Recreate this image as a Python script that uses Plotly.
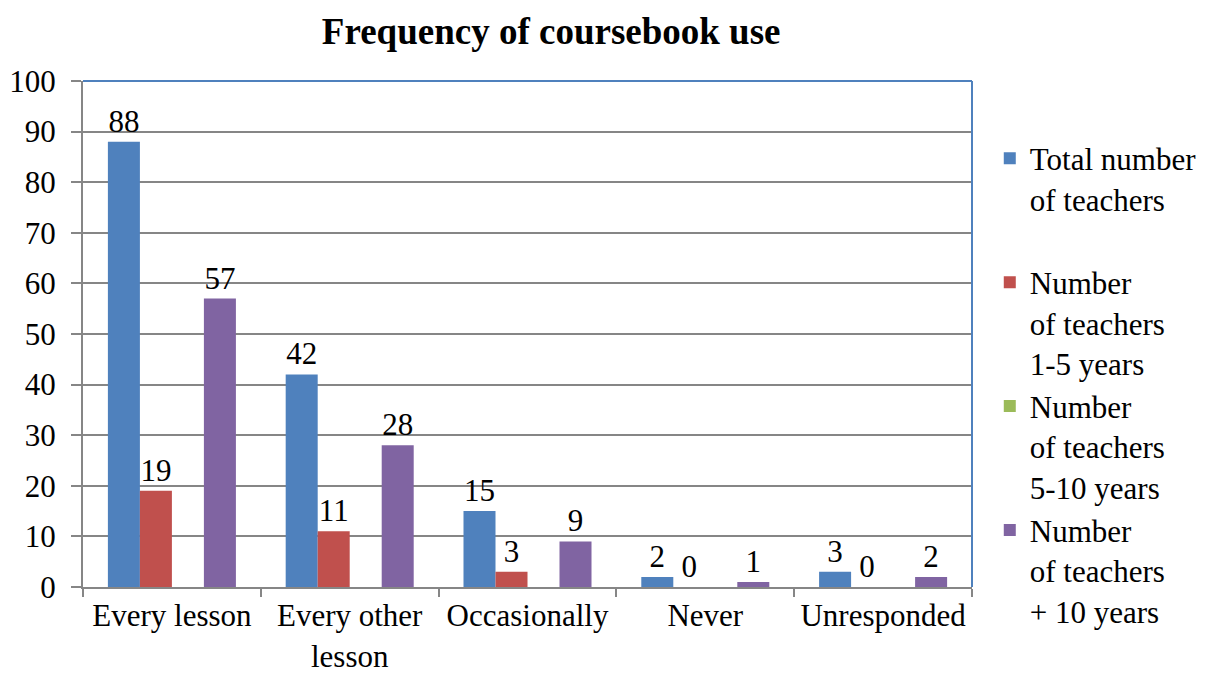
import plotly.graph_objects as go

# categories and series
categories = ['Every lesson', 'Every other<br>lesson', 'Occasionally', 'Never', 'Unresponded']
total_teachers = [88, 42, 15, 2, 3]
teachers_1_5 = [19, 11, 3, 0, 0]
teachers_5_10 = [None, None, None, None, None]  # series present in the legend but empty
teachers_10_plus = [57, 28, 9, 1, 2]

series_names = [
    'Total number<br>of teachers<br> ',
    'Number<br>of teachers<br>1-5 years',
    'Number<br>of teachers<br>5-10 years',
    'Number<br>of teachers<br>+ 10 years',
]
series_values = [total_teachers, teachers_1_5, teachers_5_10, teachers_10_plus]
colors = ['#4F81BD', '#C0504D', '#9BBB59', '#8064A2']

FONT = 'Liberation Serif, Times New Roman, serif'
SIZE = 31

fig = go.Figure()
for name, values, color in zip(series_names, series_values, colors):
    labels = ['' if v is None else str(v) for v in values]
    fig.add_trace(go.Bar(
        name=name, x=categories, y=values, marker=dict(color=color, line=dict(width=0)),
        text=labels, textposition='outside', cliponaxis=False,
        textfont=dict(family=FONT, size=SIZE, color='black'),
    ))

# the page body adds an 8px margin, so the figure is 8px smaller than the window
fig.update_layout(
    barmode='group', bargap=0.28, bargroupgap=0,
    width=1207, height=665,
    margin=dict(l=75, r=243, t=73, b=86),
    paper_bgcolor='white', plot_bgcolor='white',
    font=dict(family=FONT, size=SIZE, color='black'),
    title=dict(text='<b>Frequency of coursebook use</b>', x=0.45, xanchor='center',
               y=0.965, yanchor='middle', font=dict(family=FONT, size=37, color='black')),
    legend=dict(x=1.02, xanchor='left', y=0.9, yanchor='top', valign='top',
                font=dict(family=FONT, size=SIZE, color='black'),
                itemwidth=30, tracegroupgap=0, bgcolor='rgba(0,0,0,0)'),
)

fig.update_xaxes(showline=True, linecolor='#868686', linewidth=2,
                 ticks='outside', tickson='boundaries', ticklen=8, tickcolor='#868686',
                 tickwidth=2, tickangle=0, automargin=False,
                 tickfont=dict(family=FONT, size=SIZE, color='black'),
                 showgrid=False)
fig.update_yaxes(range=[0, 100], dtick=10, showline=True, linecolor='#868686', linewidth=2,
                 ticks='outside', ticklen=10, tickcolor='#868686', tickwidth=2,
                 ticklabelstandoff=9, automargin=False,
                 gridcolor='#868686', gridwidth=1.5, zeroline=False,
                 tickfont=dict(family=FONT, size=SIZE, color='black'))

# blue plot-area border on the top and right
fig.add_shape(type='line', xref='x domain', yref='y domain', x0=0, x1=1, y0=1, y1=1,
              line=dict(color='#4F81BD', width=2), layer='above')
fig.add_shape(type='line', xref='x domain', yref='y domain', x0=1, x1=1, y0=0, y1=1,
              line=dict(color='#4F81BD', width=2), layer='above')

fig.write_html('out.html')
